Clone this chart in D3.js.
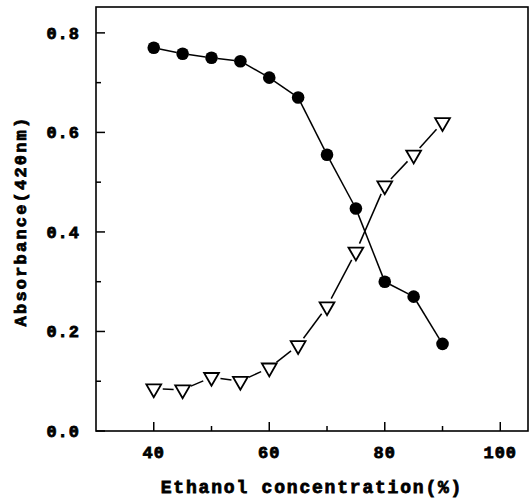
<!DOCTYPE html>
<html>
<head>
<meta charset="utf-8">
<script src="https://cdn.jsdelivr.net/npm/d3@7"></script>
<style>
  html, body { margin: 0; padding: 0; background: #fff; }
  text { font-family: 'Liberation Mono', 'DejaVu Sans Mono', monospace; font-weight: bold; fill: #000; }
</style>
</head>
<body>
<svg id="chart" width="529" height="501"></svg>
<script>
// ethanol concentration (%)
const ethanol = [40, 45, 50, 55, 60, 65, 70, 75, 80, 85, 90];
// absorbance at 420nm, filled circles
const circleSeries = [0.770, 0.758, 0.750, 0.743, 0.710, 0.670, 0.555, 0.447, 0.300, 0.270, 0.175];
// absorbance at 420nm, open triangles
const triangleSeries = [0.085, 0.083, 0.108, 0.100, 0.127, 0.172, 0.250, 0.360, 0.493, 0.555, 0.620];

const xTicks = [40, 60, 80, 100];
const xMinor = [50, 70, 90];
const yTicks = [0.0, 0.2, 0.4, 0.6, 0.8];
const yMinor = [0.1, 0.3, 0.5, 0.7];

const svg = d3.select('#chart');
const margin = { top: 7, right: 1, bottom: 70, left: 96 };
const width = 529 - margin.left - margin.right;
const height = 501 - margin.top - margin.bottom;

const g = svg.append('g').attr('transform', `translate(${margin.left},${margin.top})`);

const x = d3.scaleLinear().domain([30, 104.8]).range([0, width]);
const y = d3.scaleLinear().domain([0, 0.852]).range([height, 0]);

// frame
g.append('rect')
  .attr('width', width)
  .attr('height', height)
  .attr('fill', 'none')
  .attr('stroke', '#000')
  .attr('stroke-width', 1.6);

// x axis: inward ticks
const xAxis = g.append('g').attr('transform', `translate(0,${height})`);
xAxis.selectAll('.maj').data(xTicks).enter().append('line')
  .attr('x1', d => x(d)).attr('x2', d => x(d))
  .attr('y1', 0).attr('y2', -9)
  .attr('stroke', '#000').attr('stroke-width', 1.5);
xAxis.selectAll('.min').data(xMinor).enter().append('line')
  .attr('x1', d => x(d)).attr('x2', d => x(d))
  .attr('y1', 0).attr('y2', -5)
  .attr('stroke', '#000').attr('stroke-width', 1.5);
xAxis.selectAll('text').data(xTicks).enter().append('text')
  .attr('x', d => x(d))
  .attr('y', 27)
  .attr('text-anchor', 'middle')
  .style('font-size', '17px')
  .style('letter-spacing', '1px')
  .attr('stroke', '#000').attr('stroke-width', 0.8)
  .text(d => d);

// y axis: inward ticks
const yAxis = g.append('g');
yAxis.selectAll('.maj').data(yTicks).enter().append('line')
  .attr('x1', 0).attr('x2', 9)
  .attr('y1', d => y(d)).attr('y2', d => y(d))
  .attr('stroke', '#000').attr('stroke-width', 1.5);
yAxis.selectAll('.min').data(yMinor).enter().append('line')
  .attr('x1', 0).attr('x2', 5)
  .attr('y1', d => y(d)).attr('y2', d => y(d))
  .attr('stroke', '#000').attr('stroke-width', 1.5);
yAxis.selectAll('text').data(yTicks).enter().append('text')
  .attr('x', -16)
  .attr('y', d => y(d))
  .attr('dy', '0.35em')
  .attr('text-anchor', 'end')
  .style('font-size', '17px')
  .style('letter-spacing', '1px')
  .attr('stroke', '#000').attr('stroke-width', 0.8)
  .text(d => d.toFixed(1));

// axis titles
svg.append('text')
  .attr('x', 312)
  .attr('y', 493)
  .attr('text-anchor', 'middle')
  .style('font-size', '18px')
  .style('letter-spacing', '1.8px')
  .attr('stroke', '#000').attr('stroke-width', 0.8)
  .text('Ethanol concentration(%)');

svg.append('text')
  .attr('transform', 'translate(26,221) rotate(-90)')
  .attr('text-anchor', 'middle')
  .style('font-size', '17px')
  .style('letter-spacing', '2.2px')
  .attr('stroke', '#000').attr('stroke-width', 0.8)
  .text('Absorbance(420nm)');

// connecting segments with small gaps around markers
function drawSegments(values, gap) {
  const pts = ethanol.map((e, i) => [x(e), y(values[i])]);
  const segs = d3.pairs(pts).map(([a, b]) => {
    const dx = b[0] - a[0], dy = b[1] - a[1];
    const len = Math.hypot(dx, dy);
    const ux = dx / len, uy = dy / len;
    return [a[0] + ux * gap, a[1] + uy * gap, b[0] - ux * gap, b[1] - uy * gap];
  });
  g.append('g').selectAll('line').data(segs).enter().append('line')
    .attr('x1', d => d[0]).attr('y1', d => d[1])
    .attr('x2', d => d[2]).attr('y2', d => d[3])
    .attr('stroke', '#000').attr('stroke-width', 1.5);
}

drawSegments(circleSeries, 6);
drawSegments(triangleSeries, 9);

// filled circles
g.append('g').selectAll('circle').data(ethanol).enter().append('circle')
  .attr('cx', d => x(d))
  .attr('cy', (d, i) => y(circleSeries[i]))
  .attr('r', 6.3)
  .attr('fill', '#000');

// open down-pointing triangles
const tri = d3.symbol().type(d3.symbolTriangle).size(95);
g.append('g').selectAll('path').data(ethanol).enter().append('path')
  .attr('d', tri)
  .attr('transform', (d, i) => `translate(${x(d)},${y(triangleSeries[i])}) rotate(180)`)
  .attr('fill', '#fff')
  .attr('stroke', '#000')
  .attr('stroke-width', 1.8);
</script>
</body>
</html>
